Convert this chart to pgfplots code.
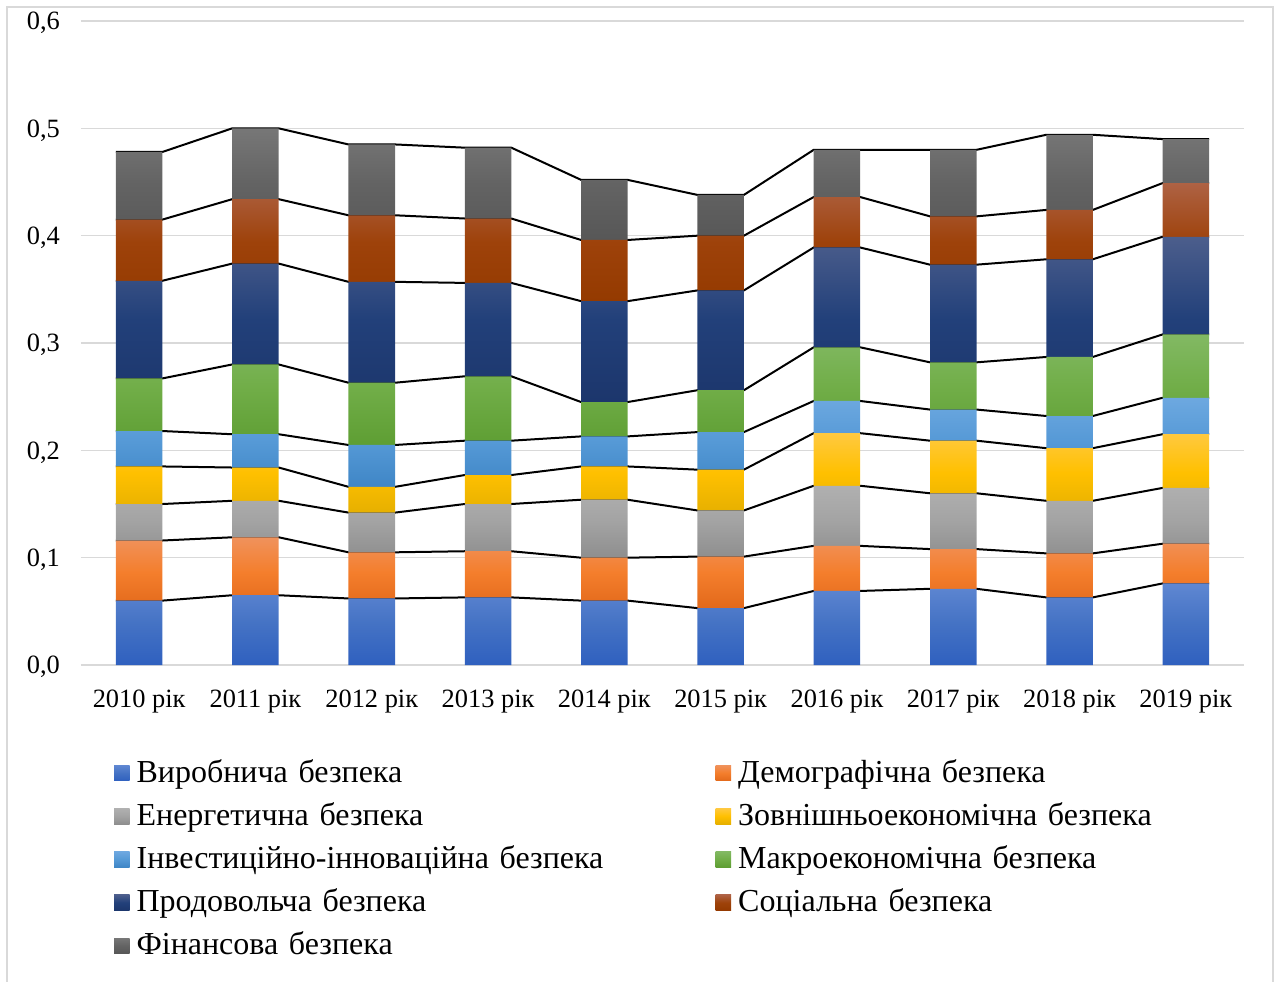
\documentclass[border=0pt]{standalone}
\usepackage{fontspec}
\setmainfont{Liberation Serif}
\usepackage{pgfplots}
\usepackage{pgfplotstable}
\pgfplotsset{compat=1.18}

\definecolor{c1t}{HTML}{5F87D2}\definecolor{c1m}{HTML}{4472C4}\definecolor{c1b}{HTML}{2F60BF}
\definecolor{c2t}{HTML}{F0925C}\definecolor{c2m}{HTML}{F47E2C}\definecolor{c2b}{HTML}{E2691B}
\definecolor{c3t}{HTML}{B0B0B0}\definecolor{c3m}{HTML}{A3A3A3}\definecolor{c3b}{HTML}{8E8E8E}
\definecolor{c4t}{HTML}{FFC940}\definecolor{c4m}{HTML}{FFC000}\definecolor{c4b}{HTML}{E6B000}
\definecolor{c5t}{HTML}{6DA8E0}\definecolor{c5m}{HTML}{5599D6}\definecolor{c5b}{HTML}{3F86C6}
\definecolor{c6t}{HTML}{82B963}\definecolor{c6m}{HTML}{70AD47}\definecolor{c6b}{HTML}{5E9E33}
\definecolor{c7t}{HTML}{4C5E8C}\definecolor{c7m}{HTML}{22407A}\definecolor{c7b}{HTML}{1C366C}
\definecolor{c8t}{HTML}{AE6244}\definecolor{c8m}{HTML}{9E420A}\definecolor{c8b}{HTML}{943A00}
\definecolor{c9t}{HTML}{777777}\definecolor{c9m}{HTML}{636363}\definecolor{c9b}{HTML}{575757}

% segment values (bottom to top)
\pgfplotstableread{
x s1 s2 s3 s4 s5 s6 s7 s8 s9
0 0.060 0.056 0.034 0.035 0.033 0.049 0.091 0.057 0.063
1 0.065 0.054 0.034 0.031 0.031 0.065 0.094 0.060 0.066
2 0.062 0.043 0.037 0.024 0.039 0.058 0.094 0.062 0.066
3 0.063 0.043 0.044 0.027 0.032 0.060 0.087 0.060 0.066
4 0.060 0.040 0.054 0.031 0.028 0.032 0.094 0.057 0.056
5 0.053 0.048 0.043 0.038 0.035 0.039 0.093 0.051 0.038
6 0.069 0.042 0.056 0.049 0.030 0.050 0.093 0.047 0.044
7 0.071 0.037 0.052 0.049 0.029 0.044 0.091 0.045 0.062
8 0.063 0.041 0.049 0.049 0.030 0.055 0.091 0.046 0.070
9 0.076 0.037 0.052 0.050 0.034 0.059 0.091 0.050 0.041
}\bars

% same values at the left and right edge of each bar (for the series lines)
\pgfplotstableread{
x s1 s2 s3 s4 s5 s6 s7 s8 s9
-0.2 0.060 0.056 0.034 0.035 0.033 0.049 0.091 0.057 0.063
0.2 0.060 0.056 0.034 0.035 0.033 0.049 0.091 0.057 0.063
0.8 0.065 0.054 0.034 0.031 0.031 0.065 0.094 0.060 0.066
1.2 0.065 0.054 0.034 0.031 0.031 0.065 0.094 0.060 0.066
1.8 0.062 0.043 0.037 0.024 0.039 0.058 0.094 0.062 0.066
2.2 0.062 0.043 0.037 0.024 0.039 0.058 0.094 0.062 0.066
2.8 0.063 0.043 0.044 0.027 0.032 0.060 0.087 0.060 0.066
3.2 0.063 0.043 0.044 0.027 0.032 0.060 0.087 0.060 0.066
3.8 0.060 0.040 0.054 0.031 0.028 0.032 0.094 0.057 0.056
4.2 0.060 0.040 0.054 0.031 0.028 0.032 0.094 0.057 0.056
4.8 0.053 0.048 0.043 0.038 0.035 0.039 0.093 0.051 0.038
5.2 0.053 0.048 0.043 0.038 0.035 0.039 0.093 0.051 0.038
5.8 0.069 0.042 0.056 0.049 0.030 0.050 0.093 0.047 0.044
6.2 0.069 0.042 0.056 0.049 0.030 0.050 0.093 0.047 0.044
6.8 0.071 0.037 0.052 0.049 0.029 0.044 0.091 0.045 0.062
7.2 0.071 0.037 0.052 0.049 0.029 0.044 0.091 0.045 0.062
7.8 0.063 0.041 0.049 0.049 0.030 0.055 0.091 0.046 0.070
8.2 0.063 0.041 0.049 0.049 0.030 0.055 0.091 0.046 0.070
8.8 0.076 0.037 0.052 0.050 0.034 0.059 0.091 0.050 0.041
9.2 0.076 0.037 0.052 0.050 0.034 0.059 0.091 0.050 0.041
}\links

\pgfplotsset{
  geom/.style={at={(0pt,0pt)}, anchor=south west, scale only axis,
    width=581.5pt, height=322pt, xmin=-0.5, xmax=9.5, ymin=0, ymax=0.6,
    enlargelimits=false},
  sq/.style={legend image code/.code={\path[##1] (0pt,-3.9pt) rectangle (7.8pt,3.9pt);}},
}

\begin{document}
\begin{tikzpicture}
\path[use as bounding box] (-40.5pt,-158pt) rectangle (598pt,332.5pt);
\draw[black!15, line width=1pt] (-37pt,-160pt) -- (-37pt,329pt) -- (596pt,329pt) -- (596pt,-160pt);

% grid and tick labels
\begin{axis}[geom,
  ytick={0,0.1,0.2,0.3,0.4,0.5,0.6},
  xtick={0,1,2,3,4,5,6,7,8,9},
  xticklabels={2010 рік,2011 рік,2012 рік,2013 рік,2014 рік,2015 рік,2016 рік,2017 рік,2018 рік,2019 рік},
  ymajorgrids, grid style={draw=black!15, line width=0.8pt},
  axis line style={draw=none}, major tick length=0pt,
  tick label style={font=\fontsize{13.2}{15}\selectfont},
  yticklabel style={xshift=-7pt, yshift=-1pt, /pgf/number format/fixed, /pgf/number format/fixed zerofill, /pgf/number format/precision=1, /pgf/number format/use comma, /pgf/number format/assume math mode=true},
  xticklabel style={yshift=-9pt},
]
\addplot[draw=none] coordinates {(0,0)};
\end{axis}

% series lines
\begin{axis}[geom, hide axis, stack plots=y]
\addplot[black, line width=1pt, no markers] table[x=x,y=s1] {\links};
\addplot[black, line width=1pt, no markers] table[x=x,y=s2] {\links};
\addplot[black, line width=1pt, no markers] table[x=x,y=s3] {\links};
\addplot[black, line width=1pt, no markers] table[x=x,y=s4] {\links};
\addplot[black, line width=1pt, no markers] table[x=x,y=s5] {\links};
\addplot[black, line width=1pt, no markers] table[x=x,y=s6] {\links};
\addplot[black, line width=1pt, no markers] table[x=x,y=s7] {\links};
\addplot[black, line width=1pt, no markers] table[x=x,y=s8] {\links};
\addplot[black, line width=1pt, no markers] table[x=x,y=s9] {\links};
\end{axis}

% bars
\begin{axis}[geom, hide axis, ybar stacked, bar width=0.4,
  legend columns=2, legend cell align=left,
  legend style={at={(0,0)}, anchor=north west, xshift=16.5pt, yshift=-46.5pt,
    draw=none, fill=none, inner sep=0pt, outer sep=0pt, row sep=6.6pt,
    font=\fontsize{16}{19}\selectfont,
    nodes={inner xsep=0pt, inner ysep=0pt, text height=12pt, text depth=3pt, text width=289.5pt},
    /tikz/column 1/.style={column sep=3.5pt},
    /tikz/column 3/.style={column sep=3.5pt}},
]
\addplot[sq, draw=none, top color=c1t, bottom color=c1b, middle color=c1m] table[x=x,y=s1] {\bars};
\addlegendentry{Виробнича безпека}
\addplot[sq, draw=none, top color=c2t, bottom color=c2b, middle color=c2m] table[x=x,y=s2] {\bars};
\addlegendentry{Демографічна безпека}
\addplot[sq, draw=none, top color=c3t, bottom color=c3b, middle color=c3m] table[x=x,y=s3] {\bars};
\addlegendentry{Енергетична безпека}
\addplot[sq, draw=none, top color=c4t, bottom color=c4b, middle color=c4m] table[x=x,y=s4] {\bars};
\addlegendentry{Зовнішньоекономічна безпека}
\addplot[sq, draw=none, top color=c5t, bottom color=c5b, middle color=c5m] table[x=x,y=s5] {\bars};
\addlegendentry{Інвестиційно-інноваційна безпека}
\addplot[sq, draw=none, top color=c6t, bottom color=c6b, middle color=c6m] table[x=x,y=s6] {\bars};
\addlegendentry{Макроекономічна безпека}
\addplot[sq, draw=none, top color=c7t, bottom color=c7b, middle color=c7m] table[x=x,y=s7] {\bars};
\addlegendentry{Продовольча безпека}
\addplot[sq, draw=none, top color=c8t, bottom color=c8b, middle color=c8m] table[x=x,y=s8] {\bars};
\addlegendentry{Соціальна безпека}
\addplot[sq, draw=none, top color=c9t, bottom color=c9b, middle color=c9m] table[x=x,y=s9] {\bars};
\addlegendentry{Фінансова безпека}
\end{axis}
\end{tikzpicture}
\end{document}
